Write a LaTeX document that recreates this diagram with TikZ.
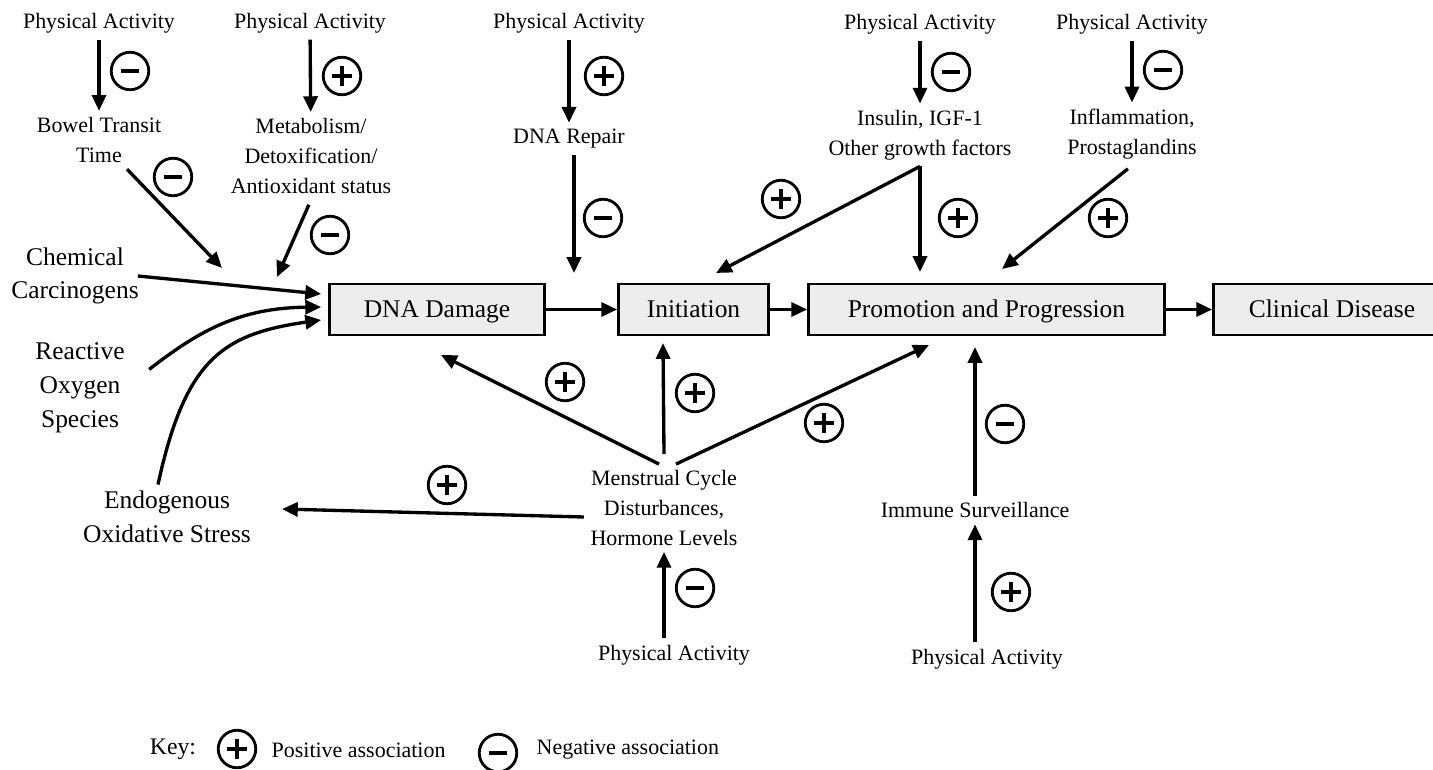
\documentclass[tikz,border=0pt]{standalone}
\usepackage{fontspec}
\setmainfont{Liberation Serif}
\usetikzlibrary{arrows.meta,positioning}

\begin{document}
\begin{tikzpicture}[
  x=0.02cm, y=-0.02cm, line width=1.9pt,
  >={Triangle[length=9pt,width=8pt]},
  lbl/.style={align=center, inner sep=0.1cm, font=\fontsize{12.5}{16.8}\selectfont},
  big/.style={align=center, inner sep=0.1cm, font=\fontsize{14.5}{19.2}\selectfont},
  stage/.style={draw, line width=1.6pt, fill=black!7, minimum height=1.02cm, inner sep=0pt, text height=11pt, text depth=2pt, font=\fontsize{14.5}{17}\selectfont},
  sgn/.style={draw, circle, line width=1.6pt, minimum size=0.75cm, inner sep=0pt},
  plussign/.style={sgn, path picture={\draw[line width=1.8pt] ([xshift=-0.2cm]path picture bounding box.center) -- ++(0.4cm,0) ([yshift=-0.2cm]path picture bounding box.center) -- ++(0,0.4cm);}},
  minussign/.style={sgn, path picture={\draw[line width=1.9pt] ([xshift=-0.18cm]path picture bounding box.center) -- ++(0.36cm,0);}},
]
\useasboundingbox (0,0) rectangle (1433,770);

\node[stage, minimum width=4.3cm] (dna) at (437,309.5) {DNA Damage};
\node[stage, minimum width=3.0cm] (init) at (693.5,309.5) {Initiation};
\node[stage, minimum width=7.12cm] (promo) at (986.5,309.5) {Promotion and Progression};
\node[stage, minimum width=4.74cm] (clin) at (1332,309.5) {Clinical Disease};
\draw[->] (dna) -- (init);
\draw[->] (init) -- (promo);
\draw[->] (promo) -- (clin);

\node[lbl] (pa1) at (99,23) {Physical Activity};
\node[lbl] (bowel) at (99,140) {Bowel Transit\\Time};
\node[lbl] (pa2) at (310,23) {Physical Activity};
\node[lbl] (metab) at (311,156) {Metabolism/\\Detoxification/\\Antioxidant status};
\node[lbl] (pa3) at (569,23) {Physical Activity};
\node[lbl] (repair) at (569,139) {DNA Repair};
\node[lbl] (pa4) at (920,24) {Physical Activity};
\node[lbl] (insulin) at (920,135) {Insulin, IGF-1\\Other growth factors};
\node[lbl] (pa5) at (1132,24) {Physical Activity};
\node[lbl] (inflam) at (1132,134) {Inflammation,\\Prostaglandins};

\node[big] (chem) at (75,276) {Chemical\\Carcinogens};
\node[big] (ros) at (80,388) {Reactive\\Oxygen\\Species};
\node[big] (endo) at (167,517) {Endogenous\\Oxidative Stress};

\node[lbl] (mens) at (664,508) {Menstrual Cycle\\Disturbances,\\Hormone Levels};
\node[lbl] (pa6) at (674,655) {Physical Activity};
\node[lbl] (imm) at (975,510) {Immune Surveillance};
\node[lbl] (pa7) at (987,659) {Physical Activity};

\coordinate (inBowel) at (222,268);
\coordinate (inMetab) at (277,277);
\coordinate (inRepair) at (574,273);
\coordinate (inIni) at (716,273);
\coordinate (inPromo) at (920,272);
\coordinate (inInfl) at (1002,269);
\coordinate (upDna) at (441,355);
\coordinate (upIni) at (663,343);
\coordinate (upPromo) at (929,345);
\coordinate (upImm) at (975,347);
\coordinate (toEndo) at (282,509);

\draw[->] (pa1) -- (bowel);
\draw[->] (pa2) -- (metab);
\draw[->] (pa3) -- (repair);
\draw[->] (pa4) -- (insulin);
\draw[->] (pa5) -- (inflam);
\draw[->] (bowel) -- (inBowel);
\draw[->, shorten <=3pt] (metab.south) -- (inMetab);
\draw[->] (repair.south -| inRepair) -- (inRepair);
\draw[->] (insulin.south) -- (inIni);
\draw[->] (insulin.south) -- (inPromo);
\draw[->, shorten <=3pt] (inflam.south) -- (inInfl);

\draw[->] ([xshift=-0.15cm]chem.east) -- ([xshift=-0.14cm, yshift=0.31cm]dna.west);
\draw[->] ([xshift=0.36cm]ros.20) .. controls (200,330) and (240,308) .. ([xshift=-0.14cm, yshift=0.05cm]dna.west);
\draw[->] ([xshift=-0.18cm]endo.north) .. controls (185,360) and (222,334) .. ([xshift=-0.14cm, yshift=-0.21cm]dna.west);

\draw[->] ([xshift=-0.1cm]mens.north) -- (upDna);
\draw[->] ([yshift=0.2cm]mens.north) -- (upIni);
\draw[->] ([xshift=0.24cm]mens.north) -- (upPromo);
\draw[->] ([yshift=-0.18cm]mens.west) -- (toEndo);
\draw[->] (mens |- pa6.north) -- (mens.south);
\draw[->] (imm.north) -- (upImm);
\draw[->] (imm |- pa7.north) -- (imm.south);

\node[minussign] (sPa1) at (130,71) {};
\node[plussign] (sPa2) at (342,76) {};
\node[plussign] (sPa3) at (604,76) {};
\node[minussign] (sPa4) at (951,72) {};
\node[minussign] (sPa5) at (1163,70) {};
\node[minussign] (sBowel) at (173,177) {};
\node[minussign] (sMetab) at (330,235) {};
\node[minussign] (sRepair) at (603,218) {};
\node[plussign] (sInsIni) at (781,199) {};
\node[plussign] (sInsPro) at (958,218) {};
\node[plussign] (sInfl) at (1108,218) {};
\node[plussign] (sMensDna) at (565,382) {};
\node[plussign] (sMensIni) at (695,393) {};
\node[plussign] (sMensPro) at (824,423) {};
\node[plussign] (sMensEndo) at (447,485) {};
\node[minussign] (sPa6) at (695,588) {};
\node[minussign] (sImm) at (1005,424) {};
\node[plussign] (sPa7) at (1011,592) {};

\node[lbl, font=\fontsize{13.5}{16}\selectfont] (key) at (173,749) {Key:};
\node[plussign] (kPos) at (237,749) {};
\node[lbl, anchor=west] (kPosTxt) at (265,750) {Positive association};
\node[minussign] (kNeg) at (498,753) {};
\node[lbl, anchor=west] (kNegTxt) at (530,750) {Negative association};
\end{tikzpicture}
\end{document}
